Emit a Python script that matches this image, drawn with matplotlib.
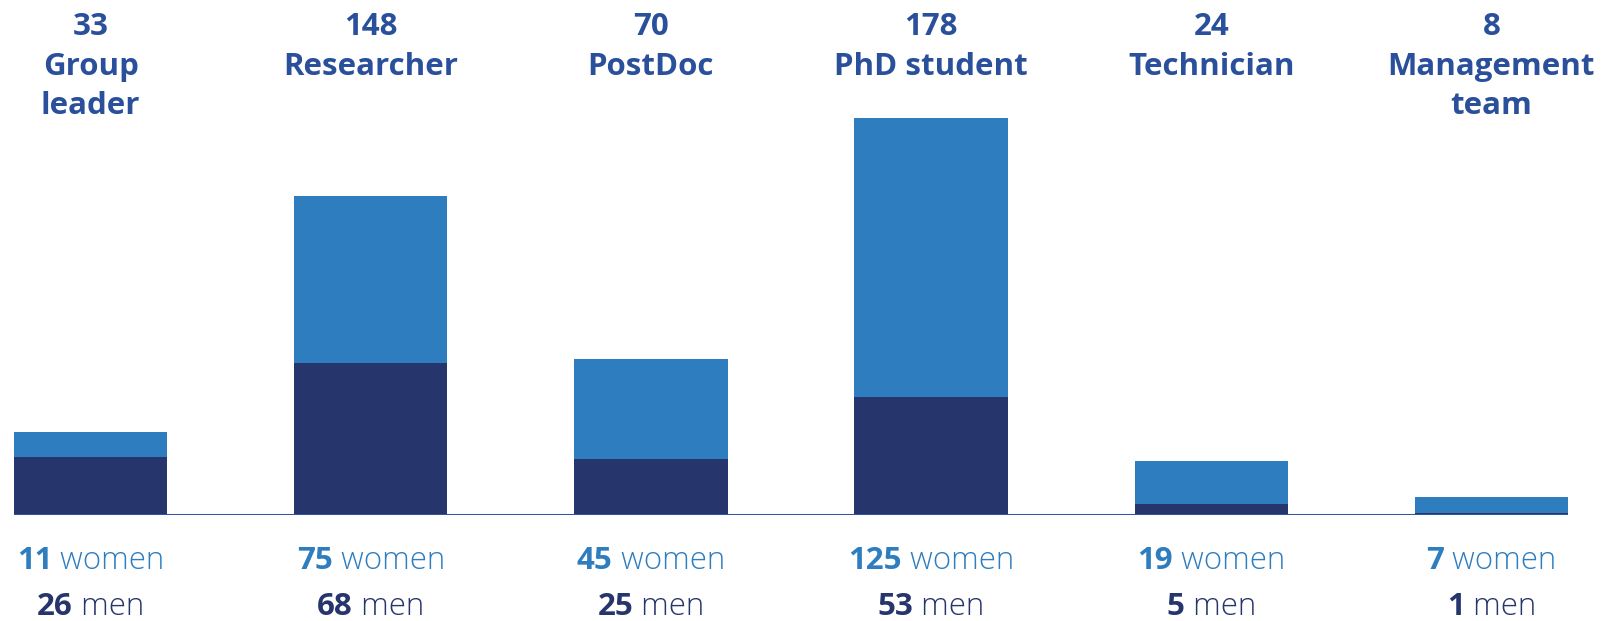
import matplotlib
matplotlib.use("Agg")
import matplotlib.pyplot as plt
import matplotlib.transforms as mtransforms
import numpy as np

# ============================================================
# Data
# ============================================================
ROLES = ["Group\nleader", "Researcher", "PostDoc", "PhD student", "Technician", "Management\nteam"]
TOTALS = [33, 148, 70, 178, 24, 8]
WOMEN = [11, 75, 45, 125, 19, 7]
MEN = [26, 68, 25, 53, 5, 1]

# ============================================================
# Style
# ============================================================
FONT = "Open Sans"
C_TITLE = "#2a4f9b"
C_WOMEN = "#2e7dbf"
C_MEN = "#26356b"
C_BASE = "#2f56a6"
FS = 22.5
W, H, DPI = 16.15, 6.21, 100
BAR_W = 0.547

fig = plt.figure(figsize=(W, H), dpi=DPI)
# baseline at 515 px from top, axis spans bar edges 14..1568 px
ax = fig.add_axes([14 / 1615, 106 / 621, (1568 - 14) / 1615, 515 / 621])

x = np.arange(len(ROLES))
ax.bar(x, MEN, width=BAR_W, color=C_MEN, zorder=2)
ax.bar(x, WOMEN, width=BAR_W, bottom=MEN, color=C_WOMEN, zorder=2)
ax.axhline(0, color=C_BASE, linewidth=2.2, zorder=3)

ax.set_xlim(-BAR_W / 2, len(ROLES) - 1 + BAR_W / 2)
ax.set_ylim(0, 515 / 2.232)
ax.axis("off")

tr = mtransforms.blended_transform_factory(ax.transData, fig.transFigure)

# top labels: total + role
for xi, tot, role in zip(x, TOTALS, ROLES):
    ax.text(xi, 1 - 35 / 621, str(tot), transform=tr, ha="center", va="baseline",
            fontsize=FS, fontweight="bold", color=C_TITLE, family=FONT)
    for j, line in enumerate(role.split("\n")):
        ax.text(xi, 1 - (75 + 38.5 * j) / 621, line, transform=tr, ha="center",
                va="baseline", fontsize=FS, fontweight="bold", color=C_TITLE, family=FONT)

# bottom labels: bold number + light word, centred as one string
fig.canvas.draw()
renderer = fig.canvas.get_renderer()


def two_part(xc, y_px, num, word, color):
    y = 1 - y_px / 621
    t1 = ax.text(xc, y, f"{num}", transform=tr, ha="left", va="baseline",
                 fontsize=FS, fontweight="bold", color=color, family=FONT)
    t2 = ax.text(xc, y, f"\u00a0{word}", transform=tr, ha="left", va="baseline",
                 fontsize=FS, fontweight="light", color=color, family=FONT)
    w1 = t1.get_window_extent(renderer).width
    w2 = t2.get_window_extent(renderer).width
    total = w1 + w2
    t1.set_transform(mtransforms.offset_copy(tr, fig=fig, x=-total / 2, y=0, units="dots"))
    t2.set_transform(mtransforms.offset_copy(tr, fig=fig, x=-total / 2 + w1, y=0, units="dots"))


for xi, wv, mv in zip(x, WOMEN, MEN):
    two_part(xi, 569, wv, "women", C_WOMEN)
    two_part(xi, 615, mv, "men", C_MEN)

fig.savefig("out.png", dpi=DPI, facecolor="white")
